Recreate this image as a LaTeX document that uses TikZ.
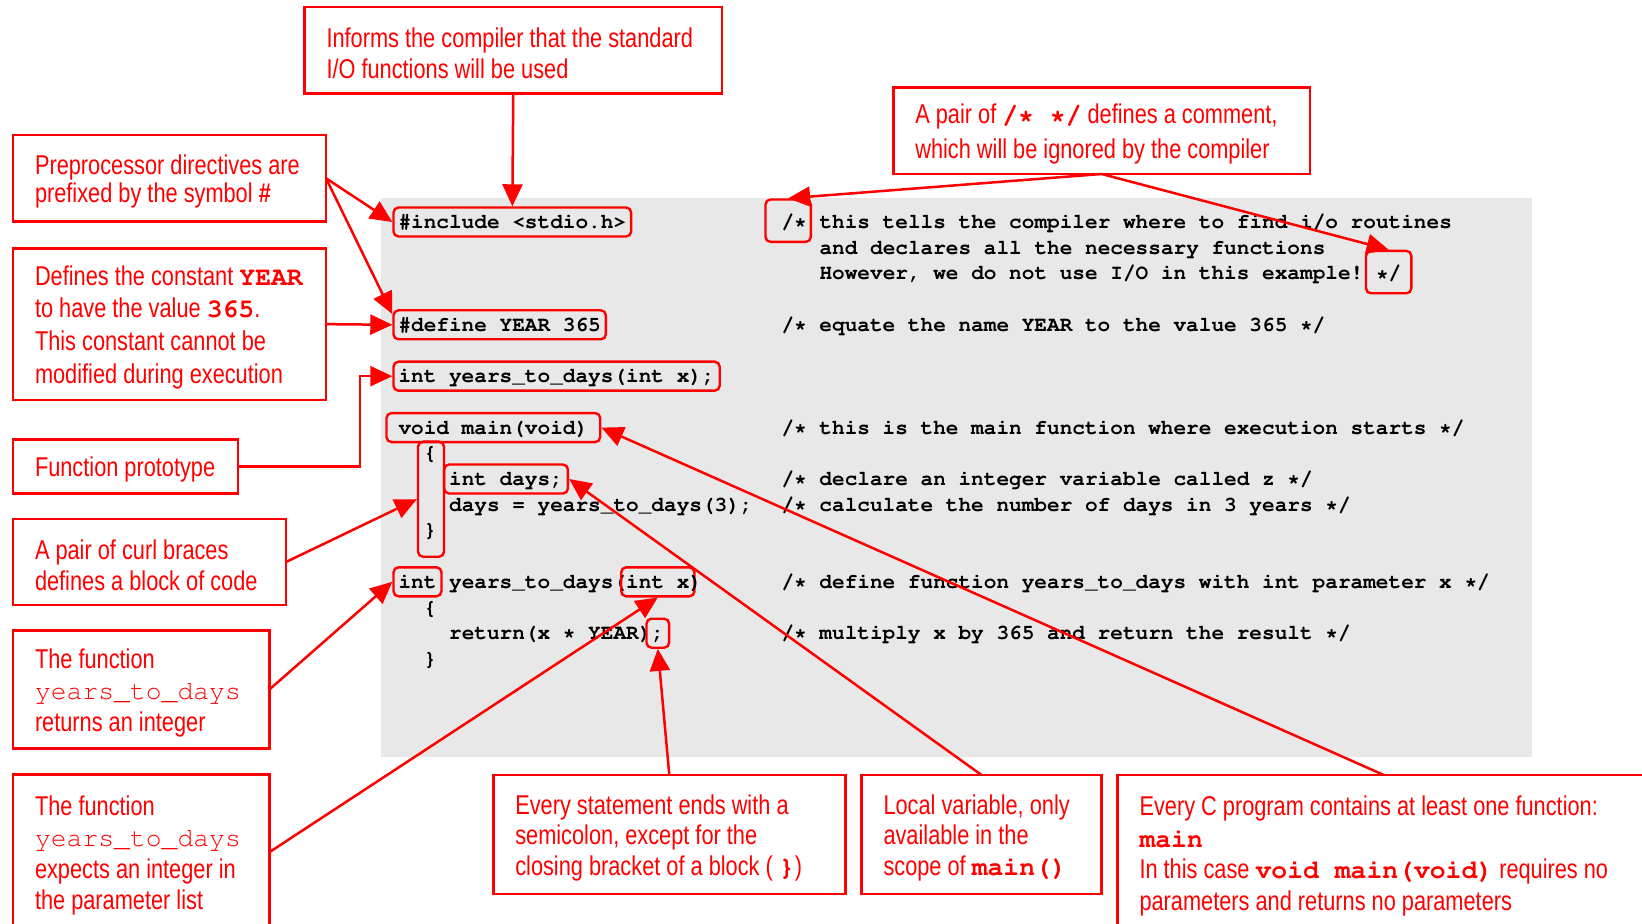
\documentclass[tikz,border=0pt]{standalone}
\usepackage[T1]{fontenc}
\usepackage{fontspec}
\setmainfont{Liberation Sans}[FakeStretch=0.8]
\usetikzlibrary{arrows.meta}
\definecolor{hlred}{RGB}{255,0,0}
\definecolor{codebg}{RGB}{232,232,232}
\newcommand{\codefont}{\fontencoding{T1}\fontfamily{pcr}\fontseries{b}\fontsize{10.54pt}{12pt}\selectfont}
\newcommand{\ckey}[1]{{\fontencoding{T1}\fontfamily{pcr}\fontseries{b}\fontsize{13.2pt}{15.8pt}\selectfont #1}}
\newcommand{\cplain}[1]{{\fontencoding{T1}\fontfamily{pcr}\fontseries{m}\fontsize{13.2pt}{15.8pt}\selectfont #1}}
\tikzset{
  code/.style={anchor=text, inner sep=0pt, font=\codefont},
  hl/.style={code, draw=hlred, line width=1.2pt, rounded corners=2.5pt, inner xsep=2.5pt, text height=10.5pt, text depth=4pt},
  hltall/.style={hl, inner xsep=5pt, text height=14.5pt, text depth=6.7pt},
  note/.style={draw=hlred, line width=1.3pt, text=hlred, align=flush left, anchor=north west, inner xsep=11pt, inner ysep=0pt, outer sep=0pt, font=\fontsize{13.6pt}{15.8pt}\selectfont, execute at begin node={\rule{0pt}{13pt}}},
  pointer/.style={draw=hlred, line width=1.25pt, -{Triangle[length=11pt,width=10pt]}},
}
\begin{document}
\begin{tikzpicture}[x=0.5pt, y=-0.5pt]
  \useasboundingbox (0,0) rectangle (1642,924);
  \clip (0,0) rectangle (1642,924);
  \fill[codebg] (381,198) rectangle (1532,757);

  % source listing
  \node[hl] (inc) at (398.5,228.5) {\#include <stdio.h>};
  \node[hltall, inner xsep=2pt] (opencom) at (769.5,228.5) {\hspace*{6pt}/*};
  \node[code] (c0) at (819.5,228.5) {this tells the compiler where to find i/o routines};
  \node[code] (c1) at (819.5,254.2) {and declares all the necessary functions};
  \node[code] (c2) at (819.5,279.9) {However, we do not use I/O in this example!};
  \node[hltall] (closecom) at (1376,279.9) {*/};
  \node[hl] (dfn) at (398.5,331.3) {\#define YEAR 365\hspace{12.6pt}};
  \node[code] (c4) at (781.5,331.3) {/* equate the name YEAR to the value 365 */};
  \node[hl] (decl) at (398.5,382.7) {int years\_to\_days(int x);};
  \node[hl, inner xsep=6pt] (mainhdr) at (398.5,434.1) {void main(void)};
  \node[code] (c8) at (781.5,434.1) {/* this is the main function where execution starts */};
  \node[code] (obrace) at (423.8,459.8) {\{};
  \node[hl] (days) at (449.1,485.5) {int days;};
  \node[code] (c10) at (781.5,485.5) {/* declare an integer variable called z */};
  \node[code] (call) at (449.1,511.2) {days = years\_to\_days(3);};
  \node[code] (c11) at (781.5,511.2) {/* calculate the number of days in 3 years */};
  \node[code] (cbrace) at (423.8,536.9) {\}};
  \node[draw=hlred, line width=1.2pt, rounded corners=2.5pt, minimum width=13pt, minimum height=57.5pt] (block) at (431,499.2) {};
  \node[hl] (rettype) at (398.5,588.3) {int};
  \node[code] (fname) at (449.1,588.3) {years\_to\_days(};
  \node[hl] (param) at (626.2,588.3) {int x};
  \node[code] (fclose) at (689.45,588.3) {)};
  \node[code] (c14) at (781.5,588.3) {/* define function years\_to\_days with int parameter x */};
  \node[code] (obrace2) at (423.8,614) {\{};
  \node[code] (ret) at (449.1,639.7) {return(x * YEAR)};
  \node[hl] (semi) at (651.5,639.7) {;};
  \node[code] (c16) at (781.5,639.7) {/* multiply x by 365 and return the result */};
  \node[code] (cbrace2) at (423.8,665.4) {\}};

  % explanations
  \node[note, text width=186.75pt, minimum height=43.25pt] (inform) at (304.5,7) {Informs the compiler that the standard\\ I/O functions will be used};
  \node[note, text width=186.35pt, minimum height=43.25pt, font=\fontsize{13.6pt}{17.5pt}\selectfont] (commentnote) at (893.3,87.5) {A pair of \ckey{/* */} defines a comment,\\ which will be ignored by the compiler};
  \node[note, text width=134.5pt, minimum height=43.25pt, font=\fontsize{13.6pt}{14.2pt}\selectfont] (prepro) at (13,135) {Preprocessor directives are\\ prefixed by the symbol \textbf{\#}};
  \node[note, text width=134.5pt, minimum height=75.85pt, font=\fontsize{13.6pt}{16.4pt}\selectfont] (constant) at (13,248.3) {Defines the constant \ckey{YEAR}\\ to have the value \ckey{365}.\\ This constant cannot be\\ modified during execution};
  \node[note, text width=90.5pt, minimum height=27pt] (protonote) at (13,439.3) {Function prototype};
  \node[note, text width=114.5pt, minimum height=43pt] (curl) at (13,519) {A pair of curl braces\\ defines a block of code};
  \node[note, text width=106.15pt, minimum height=58.9pt] (retnote) at (13,630.7) {The function\\ \cplain{years\_to\_days}\\ returns an integer};
  \node[note, text width=106.15pt, minimum height=77.75pt] (argnote) at (13,774.5) {The function\\ \cplain{years\_to\_days}\\ expects an integer in\\ the parameter list};
  \node[note, text width=154pt, minimum height=59.5pt, font=\fontsize{13.6pt}{15.2pt}\selectfont] (stmtnote) at (493.3,775) {Every statement ends with a\\ semicolon, except for the\\ closing bracket of a block ( \ckey{\}})};
  \node[note, text width=98pt, minimum height=59.5pt, font=\fontsize{13.6pt}{15.2pt}\selectfont] (localnote) at (861.5,775) {Local variable, only\\ available in the\\ scope of \ckey{main()}};
  \node[note, text width=244.25pt, minimum height=77.75pt] (mainnote) at (1117.5,775) {Every C program contains at least one function:\\ \ckey{main}\\ In this case \ckey{void main(void)} requires no\\ parameters and returns no parameters};

  \draw[pointer] (inform.south) -- (inc.north);
  \draw[pointer] (commentnote.south) -- (opencom.north);
  \draw[pointer] (commentnote.south) -- (closecom.north);
  \draw[pointer] (prepro.east) -- (inc.west);
  \draw[pointer] (prepro.east) -- ([yshift=-2.5pt]dfn.north west);
  \draw[pointer] (constant.east) -- (dfn.west);
  \draw[pointer] (protonote.east) -- ++(122,0) |- (decl.west);
  \draw[pointer] (curl.east) -- (block.west);
  \draw[pointer] (retnote.east) -- (rettype.west);
  \draw[pointer] (argnote.east) -- (param.south);
  \draw[pointer] (stmtnote.north) -- (semi.south);
  \draw[pointer] (localnote.north) -- (days.east);
  \draw[pointer] (mainnote.north) -- (mainhdr.east);
\end{tikzpicture}
\end{document}
